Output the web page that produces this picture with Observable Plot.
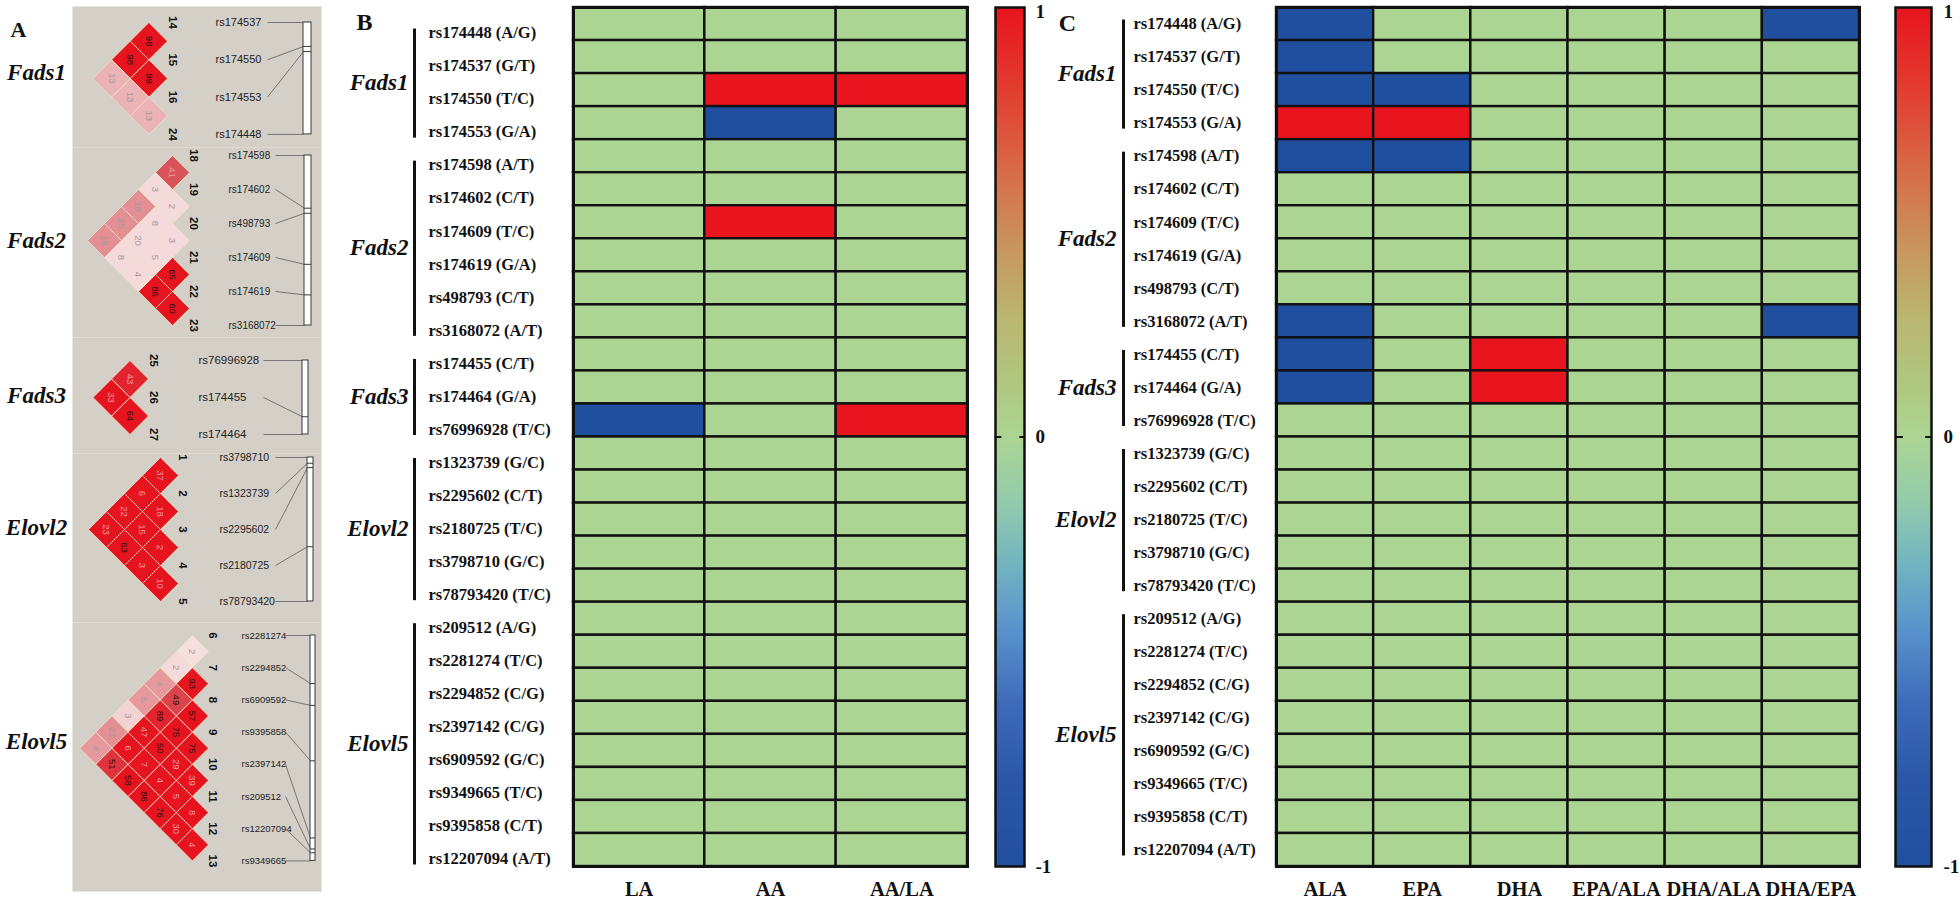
<!DOCTYPE html>
<html><head><meta charset="utf-8">
<script src="https://cdn.jsdelivr.net/npm/d3@7"></script>
<script src="https://cdn.jsdelivr.net/npm/@observablehq/plot@0.6"></script>
<style>
html,body{margin:0;padding:0;background:#fff;}
#root{position:relative;width:1960px;height:903px;overflow:hidden;background:#fff;}
#root svg{position:absolute;}
</style></head><body><div id="root"></div>
<script>
// ---------------- DATA ----------------
const genes = ["Fads1", "Fads2", "Fads3", "Elovl2", "Elovl5"];
const geneSizes = [4, 6, 3, 5, 8];
const snpLabels = [
  "rs174448 (A/G)", "rs174537 (G/T)", "rs174550 (T/C)", "rs174553 (G/A)",
  "rs174598 (A/T)", "rs174602 (C/T)", "rs174609 (T/C)", "rs174619 (G/A)", "rs498793 (C/T)", "rs3168072 (A/T)",
  "rs174455 (C/T)", "rs174464 (G/A)", "rs76996928 (T/C)",
  "rs1323739 (G/C)", "rs2295602 (C/T)", "rs2180725 (T/C)", "rs3798710 (G/C)", "rs78793420 (T/C)",
  "rs209512 (A/G)", "rs2281274 (T/C)", "rs2294852 (C/G)", "rs2397142 (C/G)", "rs6909592 (G/C)",
  "rs9349665 (T/C)", "rs9395858 (C/T)", "rs12207094 (A/T)"
];
const colsB = ["LA", "AA", "AA/LA"];
const valuesB = [
  [0, 0, 0], [0, 0, 0], [0, 1, 1], [0, -1, 0],
  [0, 0, 0], [0, 0, 0], [0, 1, 0], [0, 0, 0], [0, 0, 0], [0, 0, 0],
  [0, 0, 0], [0, 0, 0], [-1, 0, 1],
  [0, 0, 0], [0, 0, 0], [0, 0, 0], [0, 0, 0], [0, 0, 0],
  [0, 0, 0], [0, 0, 0], [0, 0, 0], [0, 0, 0], [0, 0, 0], [0, 0, 0], [0, 0, 0], [0, 0, 0]
];
const colsC = ["ALA", "EPA", "DHA", "EPA/ALA", "DHA/ALA", "DHA/EPA"];
const valuesC = [
  [-1, 0, 0, 0, 0, -1], [-1, 0, 0, 0, 0, 0], [-1, -1, 0, 0, 0, 0], [1, 1, 0, 0, 0, 0],
  [-1, -1, 0, 0, 0, 0], [0, 0, 0, 0, 0, 0], [0, 0, 0, 0, 0, 0], [0, 0, 0, 0, 0, 0], [0, 0, 0, 0, 0, 0], [-1, 0, 0, 0, 0, -1],
  [-1, 0, 1, 0, 0, 0], [-1, 0, 1, 0, 0, 0], [0, 0, 0, 0, 0, 0],
  [0, 0, 0, 0, 0, 0], [0, 0, 0, 0, 0, 0], [0, 0, 0, 0, 0, 0], [0, 0, 0, 0, 0, 0], [0, 0, 0, 0, 0, 0],
  [0, 0, 0, 0, 0, 0], [0, 0, 0, 0, 0, 0], [0, 0, 0, 0, 0, 0], [0, 0, 0, 0, 0, 0], [0, 0, 0, 0, 0, 0],
  [0, 0, 0, 0, 0, 0], [0, 0, 0, 0, 0, 0], [0, 0, 0, 0, 0, 0]
];
const colorbarTicks = [1, 0, -1];

// Panel A: LD blocks (marker numbers, names, relative physical positions, pairs [i, j, value, D' level])
const ldIds = [
  [14, 15, 16, 24],
  [18, 19, 20, 21, 22, 23],
  [25, 26, 27],
  [1, 2, 3, 4, 5],
  [6, 7, 8, 9, 10, 11, 12, 13]
];
const ldNames = [
  ["rs174537", "rs174550", "rs174553", "rs174448"],
  ["rs174598", "rs174602", "rs498793", "rs174609", "rs174619", "rs3168072"],
  ["rs76996928", "rs174455", "rs174464"],
  ["rs3798710", "rs1323739", "rs2295602", "rs2180725", "rs78793420"],
  ["rs2281274", "rs2294852", "rs6909592", "rs9395858", "rs2397142", "rs209512", "rs12207094", "rs9349665"]
];
const ldPos = [
  [0, 0.214, 0.26, 1],
  [0, 0.31, 0.34, 0.64, 0.82, 1],
  [0, 0.76, 1],
  [0, 0.04, 0.07, 0.62, 1],
  [0, 0.213, 0.31, 0.556, 0.898, 0.947, 0.964, 1]
];
const ldPairs = [
  [[0,1,98,1],[1,2,99,1],[2,3,13,0.3],[0,2,98,1],[1,3,13,0.3],[0,3,13,0.3]],
  [[0,1,41,0.8],[1,2,2,0.05],[2,3,3,0.05],[3,4,65,1],[4,5,60,1],
   [0,2,3,0.05],[1,3,8,0.05],[2,4,5,0.05],[3,5,86,1],
   [0,3,16,0.5],[1,4,20,0.05],[2,5,4,0.05],
   [0,4,25,0.5],[1,5,8,0.05],
   [0,5,15,0.5]],
  [[0,1,43,0.95],[1,2,64,1],[0,2,33,1]],
  [[0,1,37,1],[1,2,18,1],[2,3,2,1],[3,4,10,1],
   [0,2,6,1],[1,3,15,1],[2,4,3,1],
   [0,3,22,1],[1,4,63,1],
   [0,4,23,1]],
  [[0,1,2,0.02],[1,2,93,1],[2,3,57,1],[3,4,75,1],[4,5,39,1],[5,6,8,1],[6,7,4,1],
   [0,2,2,0.05],[1,3,49,0.85],[2,4,75,1],[3,5,29,1],[4,6,5,1],[5,7,30,1],
   [0,3,4,0.45],[1,4,89,0.95],[2,5,50,1],[3,6,4,1],[4,7,76,1],
   [0,4,5,0.45],[1,5,47,1],[2,6,7,1],[3,7,86,1],
   [0,5,3,0.1],[1,6,6,1],[2,7,58,1],
   [0,6,23,0.5],[1,7,51,0.9],
   [0,7,4,0.45]]
];

// ---------------- STYLE / LAYOUT ----------------
const serif = "'Liberation Serif', 'Times New Roman', serif";
const sans = "'Liberation Sans', Arial, sans-serif";
const colorOpts = {
  type: "linear",
  domain: [-1, -0.8, -0.62, -0.45, -0.3, -0.15, 0, 0.12, 0.28, 0.42, 0.6, 0.8, 1],
  range: ["#214f9f", "#2c57a8", "#3e6bb9", "#5892cc", "#71b4c1", "#94cbab", "#acd594",
          "#b0c880", "#bab670", "#c69a60", "#d6704a", "#e23f30", "#e8141e"]
};
const ldColor = {type: "linear", domain: [0, 0.4, 0.8, 1], range: ["#f6e2e2", "#e7a3a6", "#d8545a", "#e5141f"]};
const blockLayout = [
  {top: 6,   h: 141, y0: 22,  s: 37.3, xr: 167, numDx: 5.5, nameX: 215, lineX: 267, barX1: 303, barX2: 311, nameSize: 11,  geneDy: -6},
  {top: 147, h: 190, y0: 155, s: 34,   xr: 189, numDx: 4,   nameX: 228, lineX: 275, barX1: 304, barX2: 311, nameSize: 10,  geneDy: 0},
  {top: 337, h: 116, y0: 360, s: 37,   xr: 148, numDx: 5,   nameX: 198, lineX: 263, barX1: 302, barX2: 308, nameSize: 11.5, geneDy: -2},
  {top: 453, h: 169, y0: 457, s: 36,   xr: 178, numDx: 4,   nameX: 219, lineX: 275, barX1: 307, barX2: 313, nameSize: 10.5, geneDy: -2},
  {top: 622, h: 269, y0: 635, s: 32.2, xr: 208, numDx: 4,   nameX: 241, lineX: 285, barX1: 310, barX2: 315, nameSize: 9.5, geneDy: -7}
];
const diamond = {
  draw(ctx, size) {
    const h = Math.sqrt(size / Math.PI);
    ctx.moveTo(0, -h); ctx.lineTo(h, 0); ctx.lineTo(0, h); ctx.lineTo(-h, 0); ctx.closePath();
  }
};
const root = document.getElementById("root");
function place(svg, left, top) {
  svg.style.left = left + "px";
  svg.style.top = top + "px";
  root.appendChild(svg);
}

// ---------------- PANEL A ----------------
function ldBlock(k) {
  const L = blockLayout[k];
  const n = ldIds[k].length;
  const fx0 = 72, fx1 = 321;
  const xd = [(fx0 - L.xr) / L.s, (fx1 - L.xr) / L.s];
  const yd = [(L.top - L.y0) / L.s, (L.top + L.h - L.y0) / L.s];
  const bx1 = (L.barX1 - L.xr) / L.s, bx2 = (L.barX2 - L.xr) / L.s, lx = (L.lineX - L.xr) / L.s;
  const rows = ldNames[k].map((name, i) => ({name, id: ldIds[k][i], i, p: ldPos[k][i] * (n - 1)}));
  const pairs = ldPairs[k].map(([i, j, v, lvl]) => ({x: -(j - i) / 2, y: (i + j) / 2, v, lvl}));
  const textFill = d => d.v >= 48 ? "#3b1010" : (d.lvl > 0.7 ? "#f29a9e" : "#a8999a");
  const marks = [
    Plot.frame({fill: "#d4d0c8", stroke: "none"}),
    Plot.dot(pairs, {x: "x", y: "y", r: L.s / 2, symbol: diamond, fill: "lvl", stroke: "#efe2c6", strokeWidth: 0.8}),
    Plot.text(pairs, {x: "x", y: "y", text: d => String(d.v), rotate: 90, fontSize: 9.5, fontFamily: sans, fill: textFill}),
    Plot.text(rows, {x: 0, y: "i", text: d => String(d.id), rotate: 90, dx: L.numDx, fontSize: 11.5, fontWeight: "bold", fontFamily: sans, fill: "#111"}),
    Plot.text(rows, {x: 0, y: "i", text: "name", dx: L.nameX - L.xr, textAnchor: "start", fontSize: L.nameSize, fontFamily: sans, fill: "#222"}),
    Plot.link(rows, {x1: lx, x2: bx1, y1: "i", y2: "p", stroke: "#6a6a6a", strokeWidth: 0.9}),
    Plot.rect([0], {x1: bx1, x2: bx2, y1: 0, y2: n - 1, fill: "#fff", stroke: "#3a3a3a", strokeWidth: 1}),
    Plot.ruleY(rows.slice(1, -1), {y: "p", x1: bx1, x2: bx2, stroke: "#3a3a3a", strokeWidth: 1}),
    Plot.text([genes[k]], {x: xd[0], y: (n - 1) / 2, dx: -36, dy: L.geneDy, fontSize: 23, fontStyle: "italic", fontWeight: "bold", fontFamily: serif, fill: "#111"})
  ];
  if (k === 0) marks.push(Plot.text(["A"], {frameAnchor: "top-left", dx: -62, dy: 15, fontSize: 22, fontWeight: "bold", fontFamily: serif, fill: "#111"}));
  return Plot.plot({
    width: 322, height: L.h, marginLeft: fx0, marginRight: 322 - fx1, marginTop: 0, marginBottom: 0,
    x: {domain: xd, range: [fx0, fx1], axis: null},
    y: {domain: yd, range: [0, L.h], axis: null},
    color: ldColor,
    style: {fontFamily: sans, background: "none", overflow: "visible"},
    marks
  });
}
genes.forEach((g, k) => place(ldBlock(k), 0, blockLayout[k].top));

// ---------------- PANELS B & C ----------------
const starts = geneSizes.map((s, k) => d3.sum(geneSizes.slice(0, k)));
const geneRows = genes.map((gene, k) => ({gene, a: starts[k] + 0.5, b: starts[k] + geneSizes[k] - 0.5, mid: starts[k] + geneSizes[k] / 2}));

function heat(cols, values, o) {
  const nR = snpLabels.length, nC = cols.length;
  const cells = values.flatMap((row, r) => row.map((v, c) => ({r, c, v})));
  return Plot.plot({
    width: o.width, height: 903, marginLeft: o.ml, marginRight: 3, marginTop: 7, marginBottom: 37,
    x: {domain: [0, nC], axis: null},
    y: {domain: [0, nR], range: [7, 866], axis: null},
    color: colorOpts,
    style: {fontFamily: serif, background: "none", overflow: "visible", color: "#111"},
    marks: [
      Plot.rect(cells, {x1: "c", x2: d => d.c + 1, y1: "r", y2: d => d.r + 1, fill: "v", stroke: "#111", strokeWidth: 2.4}),
      Plot.frame({stroke: "#111", strokeWidth: 3}),
      Plot.text(snpLabels, {x: 0, y: (d, i) => i + 0.5, dx: o.labelDx, dy: o.labelDy, textAnchor: "start", fontSize: 16.5, fontWeight: "bold", fill: "#111"}),
      Plot.ruleX(geneRows, {x: 0, y1: "a", y2: "b", dx: o.bracketDx, dy: o.labelDy, stroke: "#111", strokeWidth: 3, insetTop: -4, insetBottom: -6}),
      Plot.text(geneRows, {x: 0, y: "mid", text: "gene", dx: o.geneDx, dy: o.labelDy, textAnchor: "end", fontSize: 23, fontStyle: "italic", fontWeight: "bold", fill: "#111"}),
      Plot.text(cols, {x: (d, i) => i + 0.5, y: nR, dy: 23, fontSize: 20.5, fontWeight: "bold", fill: "#111"}),
      Plot.text([o.letter], {x: 0, y: 0, dx: o.letterDx, dy: o.letterDy, fontSize: 24, fontWeight: "bold", fill: "#111"})
    ]
  });
}

function colorbar(o) {
  return Plot.plot({
    width: o.width, height: 903, marginLeft: 10, marginRight: o.width - 10 - o.bw, marginTop: 7, marginBottom: 37,
    x: {domain: [0, 1], axis: null},
    y: {domain: [-1, 1], axis: null},
    color: colorOpts,
    style: {fontFamily: serif, background: "none", overflow: "visible"},
    marks: [
      Plot.raster({x1: 0, x2: 1, y1: -1, y2: 1, fill: (x, y) => y, pixelSize: 1}),
      Plot.frame({stroke: "#111", strokeWidth: 2.5}),
      Plot.ruleY([0], {x1: 0, x2: 0.22, stroke: "#111", strokeWidth: 2}),
      Plot.ruleY([0], {x1: 0.84, x2: 1, stroke: "#111", strokeWidth: 2}),
      Plot.text(colorbarTicks.slice(0, 1), {x: 1, y: d => d, dx: o.tdx, dy: -3, lineAnchor: "top", textAnchor: "start", fontSize: 19, fontWeight: "bold", fill: "#111"}),
      Plot.text(colorbarTicks.slice(1), {x: 1, y: d => d, dx: o.tdx, textAnchor: "start", fontSize: 19, fontWeight: "bold", fill: "#111"})
    ]
  });
}

place(heat(colsB, valuesB, {width: 630, ml: 233, labelDx: -145, labelDy: 9, bracketDx: -159, geneDx: -165, letter: "B", letterDx: -209, letterDy: 15}), 340, 0);
place(colorbar({width: 85, bw: 29, tdx: 11}), 985, 0);
place(heat(colsC, valuesC, {width: 822, ml: 236, labelDx: -143, labelDy: 0, bracketDx: -153, geneDx: -160, letter: "C", letterDx: -209, letterDy: 16}), 1040, 0);
place(colorbar({width: 75, bw: 36, tdx: 12}), 1885, 0);
</script></body></html>
